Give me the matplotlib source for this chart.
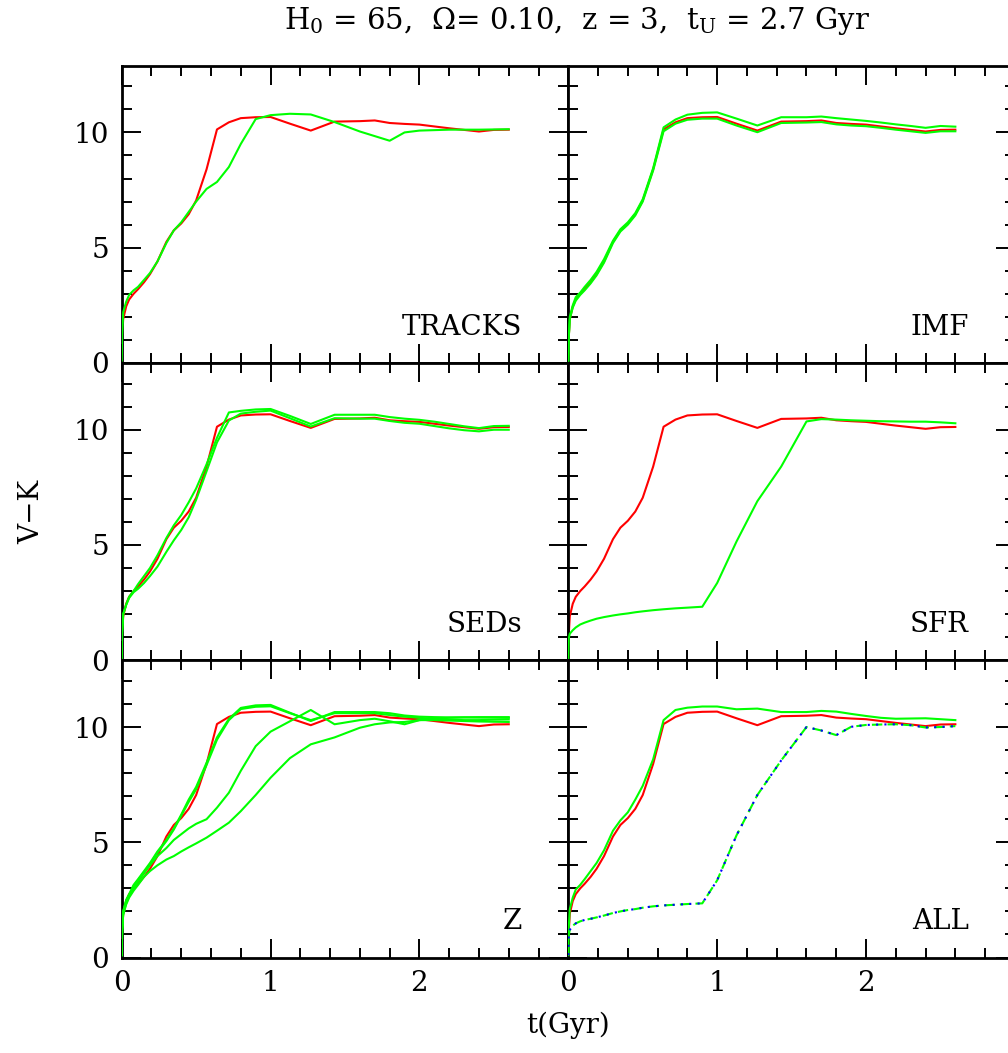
import matplotlib
matplotlib.use("Agg")
import matplotlib.pyplot as plt
from matplotlib.ticker import MultipleLocator, FixedLocator

plt.rcParams['font.family'] = ['DejaVu Serif']
plt.rcParams['mathtext.fontset'] = 'dejavuserif'

# common time grid (Gyr)
t = [0.0, 0.003, 0.01, 0.03, 0.05, 0.08, 0.11, 0.15, 0.19, 0.24, 0.30, 0.35, 0.40,
     0.45, 0.50, 0.57, 0.64, 0.72, 0.80, 0.90, 1.00, 1.13, 1.27, 1.43, 1.60,
     1.70, 1.80, 1.90, 2.00, 2.10, 2.20, 2.30, 2.40, 2.50, 2.60]

# reference model (red) - same in all panels
red_ref = [0.1, 1.1, 1.9, 2.45, 2.75, 3.0, 3.2, 3.5, 3.85, 4.4, 5.25, 5.75, 6.05,
           6.45, 7.05, 8.4, 10.13, 10.44, 10.62, 10.66, 10.67, 10.38, 10.08, 10.47, 10.49,
           10.52, 10.41, 10.37, 10.34, 10.26, 10.18, 10.11, 10.04, 10.11, 10.12]

tracks_g = [0.1, 1.2, 2.2, 2.65, 2.95, 3.15, 3.3, 3.6, 3.9, 4.4, 5.2, 5.75, 6.1,
            6.55, 7.0, 7.55, 7.85, 8.5, 9.5, 10.58, 10.75, 10.81, 10.78, 10.45, 10.04,
            9.84, 9.64, 10.0, 10.08, 10.1, 10.12, 10.12, 10.12, 10.13, 10.14]

imf_g1 = [0.1, 1.1, 2.0, 2.5, 2.85, 3.05, 3.3, 3.6, 3.95, 4.5, 5.3, 5.8, 6.1,
          6.5, 7.1, 8.45, 10.22, 10.56, 10.77, 10.85, 10.87, 10.6, 10.3, 10.66, 10.66,
          10.69, 10.62, 10.56, 10.5, 10.43, 10.35, 10.28, 10.2, 10.28, 10.25]
imf_g2 = [0.1, 1.1, 1.9, 2.4, 2.7, 2.95, 3.15, 3.45, 3.8, 4.35, 5.2, 5.7, 6.0,
          6.4, 7.0, 8.35, 10.05, 10.38, 10.55, 10.6, 10.6, 10.3, 10.01, 10.41, 10.43,
          10.45, 10.35, 10.3, 10.27, 10.2, 10.12, 10.05, 9.98, 10.05, 10.05]

seds_g1 = [0.1, 1.2, 2.0, 2.4, 2.75, 3.0, 3.3, 3.65, 4.0, 4.55, 5.3, 5.85, 6.3,
           6.85, 7.45, 8.5, 9.65, 10.75, 10.82, 10.88, 10.9, 10.6, 10.25, 10.65, 10.65,
           10.65, 10.55, 10.48, 10.43, 10.35, 10.25, 10.15, 10.07, 10.16, 10.17]
seds_g2 = [0.1, 1.2, 2.0, 2.4, 2.7, 2.95, 3.1, 3.35, 3.65, 4.06, 4.7, 5.2, 5.65,
           6.2, 6.96, 8.2, 9.45, 10.4, 10.7, 10.78, 10.83, 10.5, 10.14, 10.5, 10.48,
           10.48, 10.38, 10.3, 10.26, 10.16, 10.06, 9.98, 9.93, 10.0, 10.0]

sfr_g = [0.1, 0.95, 1.15, 1.3, 1.42, 1.55, 1.63, 1.72, 1.8, 1.87, 1.94, 1.99, 2.03,
         2.08, 2.12, 2.17, 2.21, 2.25, 2.28, 2.32, 3.35, 5.15, 6.9, 8.4, 10.36,
         10.46, 10.44, 10.41, 10.39, 10.37, 10.36, 10.35, 10.35, 10.32, 10.28]

z_g1 = [0.1, 1.2, 2.0, 2.5, 2.75, 3.15, 3.4, 3.75, 4.1, 4.6, 5.1, 5.6, 6.2,
        6.85, 7.4, 8.45, 9.55, 10.35, 10.83, 10.94, 10.96, 10.62, 10.26, 10.65, 10.65,
        10.65, 10.6, 10.5, 10.45, 10.43, 10.42, 10.42, 10.41, 10.41, 10.4]
z_g2 = [0.1, 1.2, 2.0, 2.45, 2.7, 3.1, 3.35, 3.7, 4.05, 4.55, 5.05, 5.55, 6.15,
        6.75, 7.3, 8.35, 9.45, 10.3, 10.78, 10.88, 10.9, 10.6, 10.3, 10.6, 10.6,
        10.6, 10.52, 10.45, 10.4, 10.35, 10.32, 10.3, 10.3, 10.32, 10.33]
z_g3 = [0.1, 1.2, 1.9, 2.35, 2.65, 3.0, 3.3, 3.65, 4.0, 4.4, 4.75, 5.1, 5.35,
        5.6, 5.8, 6.0, 6.5, 7.15, 8.1, 9.17, 9.8, 10.25, 10.74, 10.12, 10.3,
        10.36, 10.25, 10.12, 10.3, 10.36, 10.4, 10.42, 10.43, 10.43, 10.43]
z_g4 = [0.1, 1.2, 1.85, 2.3, 2.6, 2.9, 3.15, 3.5, 3.75, 4.0, 4.25, 4.4, 4.6,
        4.78, 4.95, 5.2, 5.5, 5.85, 6.35, 7.05, 7.8, 8.65, 9.25, 9.55, 9.97,
        10.12, 10.2, 10.22, 10.3, 10.3, 10.28, 10.26, 10.24, 10.23, 10.22]

all_g = [0.1, 1.3, 2.1, 2.6, 2.95, 3.15, 3.4, 3.75, 4.1, 4.65, 5.5, 5.95, 6.3,
         6.85, 7.45, 8.6, 10.3, 10.74, 10.84, 10.89, 10.89, 10.77, 10.8, 10.65, 10.65,
         10.7, 10.67, 10.57, 10.48, 10.4, 10.36, 10.37, 10.38, 10.34, 10.3]
all_dash = [0.1, 0.97, 1.2, 1.38, 1.48, 1.57, 1.63, 1.68, 1.74, 1.82, 1.93, 2.0, 2.06,
            2.1, 2.16, 2.22, 2.26, 2.29, 2.32, 2.35, 3.35, 5.3, 7.05, 8.55, 10.0,
            9.85, 9.65, 10.01, 10.09, 10.11, 10.12, 10.08, 9.98, 10.0, 10.04]

panel_names = ["TRACKS", "IMF", "SEDs", "SFR", "Z", "ALL"]
panel_greens = [[tracks_g], [imf_g1, imf_g2], [seds_g1, seds_g2], [sfr_g],
                [z_g1, z_g2, z_g3, z_g4], [all_g]]

title = r"H$_0$ = 65,  $\Omega$= 0.10,  z = 3,  t$_\mathrm{U}$ = 2.7 Gyr"
xlabel = "t(Gyr)"
ylabel = "V\u2212K"

W, H = 1008, 1053
fig = plt.figure(figsize=(W / 100, H / 100), dpi=100)

left0 = 121.7 / W
pw = 446.6 / W
ph = 297.3 / H
bottom0 = (H - 957.5) / H

RED = (1, 0, 0)
GREEN = (0, 1, 0)
BLUE = (0, 0, 1)
FS = 20

for i, name in enumerate(panel_names):
    row, col = divmod(i, 2)
    ax = fig.add_axes([left0 + col * pw, bottom0 + (2 - row) * ph, pw, ph])
    ax.plot(t, red_ref, color=RED, lw=1.5, zorder=2)
    for g in panel_greens[i]:
        ax.plot(t, g, color=GREEN, lw=1.5, zorder=3)
    if name == "ALL":
        ax.plot(t, all_dash, color=GREEN, lw=1.5, ls=(0, (5, 2.5)), zorder=3)
        ax.plot(t, all_dash, color=BLUE, lw=1.5, ls=(0, (1, 3)), zorder=4)
    ax.set_xlim(0, 3)
    ax.set_ylim(0, 12.9)
    ax.xaxis.set_major_locator(FixedLocator([0, 1, 2]))
    ax.xaxis.set_minor_locator(MultipleLocator(0.2))
    ax.yaxis.set_major_locator(FixedLocator([0, 5, 10]))
    ax.yaxis.set_minor_locator(MultipleLocator(1))
    ax.tick_params(which='both', direction='in', top=True, right=True,
                   labelsize=FS, width=1.4)
    ax.tick_params(which='major', length=13.5, pad=9)
    ax.tick_params(which='minor', length=7)
    for s in ax.spines.values():
        s.set_linewidth(2.0)
    if col == 1:
        ax.tick_params(labelleft=False)
    if row != 2:
        ax.tick_params(labelbottom=False)
    ax.text(2.69, 1.23, name, ha='right', va='baseline', fontsize=FS)

fig.text(577 / W, 1 - 21 / H, title, ha='center', va='center', fontsize=21)
fig.text(568 / W, 1 - 1025 / H, xlabel, ha='center', va='center', fontsize=FS)
fig.text(32 / W, 1 - 512 / H, ylabel, ha='center', va='center', fontsize=FS, rotation=90)

fig.savefig("out.png", dpi=100)
